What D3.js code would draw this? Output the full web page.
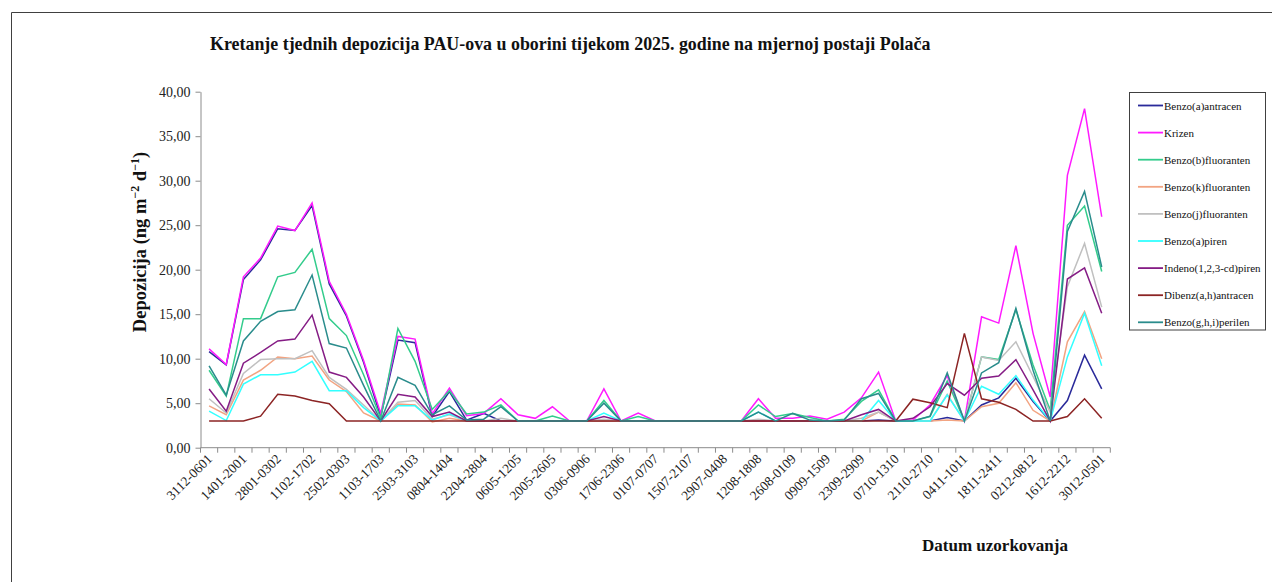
<!DOCTYPE html>
<html><head><meta charset="utf-8">
<script src="https://cdn.jsdelivr.net/npm/d3@7"></script>
<style>
html,body{margin:0;padding:0;background:#fff;}
svg text{font-family:"Liberation Serif","Times New Roman",serif;}
</style></head>
<body>
<svg id="chart" width="1272" height="582"></svg>
<script>
const categories = ["3112-0601","0701-1301","1401-2001","2101-2701","2801-0302","0402-1002","1102-1702","1802-2402","2502-0303","0403-1003","1103-1703","1803-2403","2503-3103","0104-0704","0804-1404","1504-2104","2204-2804","2904-0505","0605-1205","1305-1905","2005-2605","2705-0206","0306-0906","1006-1606","1706-2306","2406-3006","0107-0707","0807-1407","1507-2107","2207-2807","2907-0408","0508-1108","1208-1808","1908-2508","2608-0109","0209-0809","0909-1509","1609-2209","2309-2909","3009-0610","0710-1310","1410-2010","2110-2710","2810-0311","0411-1011","1111-1711","1811-2411","2511-0112","0212-0812","0912-1512","1612-2212","2312-2912","3012-0501"];

const seriesNames = ["Benzo(a)antracen","Krizen","Benzo(b)fluoranten","Benzo(k)fluoranten","Benzo(j)fluoranten","Benzo(a)piren","Indeno(1,2,3-cd)piren","Dibenz(a,h)antracen","Benzo(g,h,i)perilen"];
const seriesColors = ["#2a2a9a","#ff1aff","#33cc8c","#f2a482","#c0c0c0","#33ffff","#851c85","#8c2424","#2a8c8c"];

const benzoAAntracen = [10.8,9.3,18.9,21.1,24.6,24.4,27.2,18.4,14.8,9.6,3.5,12.1,11.8,3.5,6.3,3.1,3.85,3.0,3.0,3.0,3.0,3.0,3.0,3.0,3.0,3.0,3.0,3.0,3.0,3.0,3.0,3.0,3.0,3.0,3.0,3.0,3.0,3.0,3.0,3.1,3.0,3.0,3.0,3.4,3.0,4.8,5.6,7.8,5.2,3.0,5.3,10.4,6.6];
const krizen = [11.1,9.35,19.2,21.3,24.9,24.4,27.5,18.7,15.0,9.8,3.85,12.5,12.2,3.8,6.7,3.6,3.85,5.5,3.7,3.3,4.6,3.0,3.0,6.6,3.0,3.9,3.0,3.0,3.0,3.0,3.0,3.0,5.5,3.3,3.3,3.55,3.2,4.0,5.6,8.5,3.0,3.1,4.8,8.1,3.0,14.7,14.0,22.7,12.85,5.7,30.6,38.1,25.95];
const benzoBFluoranten = [8.7,5.8,14.5,14.5,19.2,19.7,22.3,14.5,12.6,8.2,3.3,13.4,9.7,4.3,6.4,3.8,4.0,4.8,3.0,3.0,3.55,3.0,3.0,5.3,3.0,3.5,3.0,3.0,3.0,3.0,3.0,3.0,4.8,3.5,3.85,3.4,3.0,3.2,5.2,6.5,3.0,3.0,3.5,7.5,3.0,10.2,9.9,15.5,9.3,4.2,25.0,27.15,19.8];
const benzoKFluoranten = [4.7,3.7,7.6,8.7,10.2,10.0,10.3,7.6,6.3,3.9,3.0,4.9,4.8,2.9,3.3,3.0,3.0,3.0,3.0,3.0,3.0,3.0,3.0,3.0,3.0,3.0,3.0,3.0,3.0,3.0,3.0,3.0,3.0,3.0,3.0,3.0,3.0,3.0,3.0,4.0,3.0,3.0,3.0,3.1,3.0,4.6,5.0,7.3,4.2,3.0,11.9,15.3,10.0];
const benzoJFluoranten = [5.5,3.9,8.35,9.9,10.0,10.0,10.9,7.9,6.55,4.8,3.0,5.1,5.3,3.2,3.7,3.0,3.0,3.3,3.0,3.0,3.0,3.0,3.0,3.2,3.0,3.0,3.0,3.0,3.0,3.0,3.0,3.0,3.2,3.0,3.0,3.0,3.0,3.0,3.3,4.0,3.0,3.0,3.0,6.0,3.0,10.2,9.8,11.9,8.0,4.0,18.1,22.95,15.8];
const benzoAPiren = [4.1,3.05,7.15,8.2,8.2,8.5,9.7,6.4,6.4,4.5,3.0,4.7,4.7,3.1,3.8,3.0,3.0,3.0,3.0,3.0,3.0,3.0,3.0,3.9,3.0,3.0,3.0,3.0,3.0,3.0,3.0,3.0,4.0,3.0,3.0,3.0,3.0,3.0,3.0,5.3,3.0,3.0,3.0,5.9,3.0,6.9,6.0,8.1,5.35,3.0,10.2,15.1,9.2];
const indenoPiren = [6.6,4.1,9.5,10.7,12.0,12.2,14.9,8.5,7.9,5.7,3.0,6.0,5.7,3.5,4.0,3.0,3.0,3.0,3.0,3.0,3.0,3.0,3.0,3.5,3.0,3.0,3.0,3.0,3.0,3.0,3.0,3.0,3.0,3.0,3.0,3.0,3.0,3.0,3.7,4.3,3.0,3.3,4.6,7.2,5.9,7.8,8.05,9.9,6.5,3.0,18.95,20.2,15.1];
const dibenzAntracen = [3.0,3.0,3.0,3.55,6.0,5.8,5.3,4.95,3.0,3.0,3.0,3.0,3.0,3.0,3.0,3.0,3.0,3.0,3.0,3.0,3.0,3.0,3.0,3.0,3.0,3.0,3.0,3.0,3.0,3.0,3.0,3.0,3.0,3.0,3.0,3.0,3.0,3.0,3.0,3.0,3.0,5.45,5.05,4.5,12.85,5.5,5.1,4.3,3.0,3.0,3.5,5.5,3.3];
const benzoGhiPerilen = [9.2,5.9,12.0,14.2,15.3,15.5,19.4,11.7,11.2,7.0,3.0,7.9,7.0,3.7,4.7,3.1,3.2,4.6,3.0,3.0,3.0,3.0,3.0,5.0,3.0,3.0,3.0,3.0,3.0,3.0,3.0,3.0,4.0,3.0,3.85,3.1,3.0,3.1,5.5,6.1,3.0,3.0,3.55,8.4,3.0,8.4,9.55,15.65,8.7,3.0,24.3,28.8,20.3];

const yTicks = [0,5,10,15,20,25,30,35,40];

const seriesValues = [benzoAAntracen,krizen,benzoBFluoranten,benzoKFluoranten,benzoJFluoranten,benzoAPiren,indenoPiren,dibenzAntracen,benzoGhiPerilen];
const series = seriesNames.map((n,i)=>({name:n,color:seriesColors[i],values:seriesValues[i]}));

const svg = d3.select("#chart");
const plotL = 200.5, plotR = 1110.3, plotT = 91.7, plotB = 447.7;

// outer frame (top and left edges)
svg.append("path").attr("d","M11.5,600V12.5H1300").attr("fill","none").attr("stroke","#404040").attr("stroke-width",1);

const x = d3.scaleBand().domain(categories).range([plotL,plotR]).padding(0);
const y = d3.scaleLinear().domain([0,40]).range([plotB,plotT]);

// y axis
const yAxis = svg.append("g").attr("transform",`translate(${plotL},0)`)
  .call(d3.axisLeft(y).tickValues(yTicks).tickSize(5).tickSizeOuter(0)
    .tickFormat(d=>d3.format(".2f")(d).replace(".",",")));
yAxis.select(".domain").attr("stroke","#8c8c8c");
yAxis.selectAll(".tick line").attr("stroke","#8c8c8c");
yAxis.selectAll(".tick text").attr("font-size","14px").attr("fill","#222").attr("x",-10)
  .style("font-family","'Liberation Serif',serif");

// x axis line and ticks at category boundaries
const xg = svg.append("g");
xg.append("line").attr("x1",plotL).attr("x2",plotR).attr("y1",plotB).attr("y2",plotB).attr("stroke","#8c8c8c");
const bounds = categories.map(c=>x(c)).concat([x(categories[categories.length-1])+x.bandwidth()]);
xg.selectAll("line.tk").data(bounds).join("line").attr("class","tk")
  .attr("x1",d=>d).attr("x2",d=>d).attr("y1",plotB).attr("y2",plotB+5).attr("stroke","#8c8c8c");
xg.selectAll("text.xl").data(categories.filter((c,i)=>i%2===0)).join("text").attr("class","xl")
  .attr("transform",d=>`translate(${x(d)+x.bandwidth()/2+4},${plotB+12}) rotate(-45)`)
  .attr("text-anchor","end").attr("font-size","13.5px").attr("fill","#222").text(d=>d);

// lines
const line = d3.line().x((d,i)=>x(categories[i])+x.bandwidth()/2).y(d=>y(d));
svg.append("g").selectAll("path").data(series).join("path")
  .attr("d",d=>line(d.values)).attr("fill","none").attr("stroke",d=>d.color)
  .attr("stroke-width",1.5).attr("stroke-linejoin","miter");

// title
svg.append("text").attr("x",210).attr("y",50).attr("font-size","17.9px").attr("font-weight","bold").attr("fill","#111")
  .text("Kretanje tjednih depozicija PAU-ova u oborini tijekom 2025. godine na mjernoj postaji Polača");

// y label
const yl = svg.append("text").attr("transform","translate(146,242) rotate(-90)").attr("text-anchor","middle")
  .attr("font-size","18.5px").attr("font-weight","bold").attr("fill","#111");
yl.append("tspan").text("Depozicija (ng m");
yl.append("tspan").attr("font-size","12px").attr("dy",-7).text("−2");
yl.append("tspan").attr("dy",7).text(" d");
yl.append("tspan").attr("font-size","12px").attr("dy",-7).text("−1");
yl.append("tspan").attr("dy",7).text(")");

// x label
svg.append("text").attr("x",995).attr("y",551).attr("text-anchor","middle").attr("font-size","17px")
  .attr("font-weight","bold").attr("fill","#111").text("Datum uzorkovanja");

// legend
const lg = svg.append("g");
lg.append("rect").attr("x",1129.5).attr("y",92.5).attr("width",136).attr("height",237.5)
  .attr("fill","#fff").attr("stroke","#404040").attr("stroke-width",1);
const items = lg.selectAll("g.it").data(series).join("g").attr("class","it")
  .attr("transform",(d,i)=>`translate(1138,${105.5+i*27.1})`);
items.append("line").attr("x1",0).attr("x2",25).attr("stroke",d=>d.color).attr("stroke-width",1.8);
items.append("text").attr("x",26).attr("y",4).attr("font-size","11px").attr("fill","#111").text(d=>d.name);
</script>
</body></html>
